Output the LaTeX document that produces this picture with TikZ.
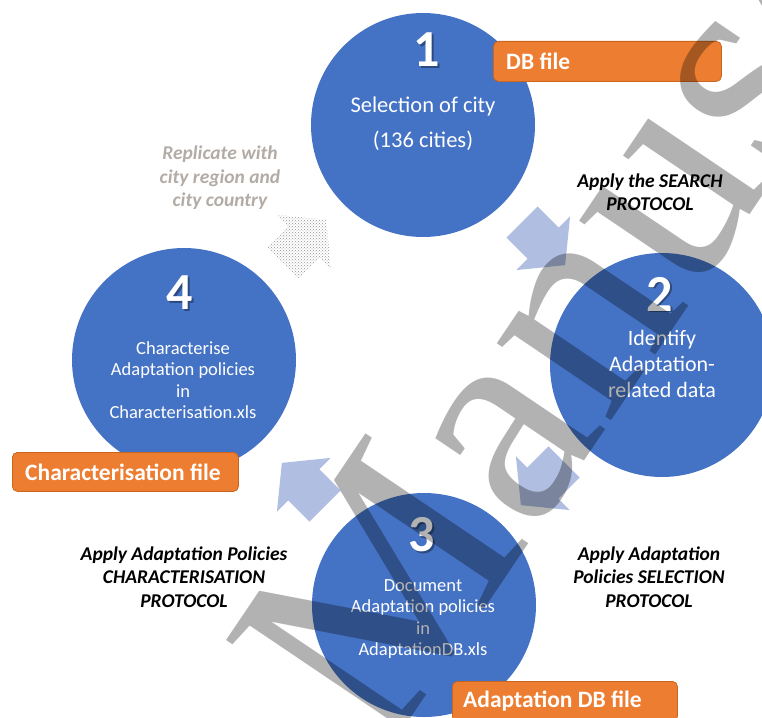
\documentclass[tikz,border=0pt]{standalone}
\usepackage{fontspec}
\setmainfont{Carlito}
\newfontfamily\wmfont{Liberation Serif}
\usetikzlibrary{patterns}

\definecolor{stepblue}{HTML}{4472C4}
\definecolor{flowblue}{HTML}{B0BEE1}
\definecolor{fileorange}{HTML}{ED7D31}
\definecolor{fileedge}{HTML}{C9651F}
\definecolor{notegray}{HTML}{B3ACA6}

\tikzset{
  stepcircle/.style={circle, fill=stepblue, minimum size=224pt, inner sep=0pt},
  stepnum/.style={text=white, font=\fontsize{52}{52}\selectfont\bfseries, inner sep=0pt},
  numshadow/.style={text=black, text opacity=0.35, font=\fontsize{52}{52}\selectfont\bfseries, inner sep=0pt},
  steptext/.style={text=white, align=center, inner sep=0pt},
  filebox/.style={rounded corners=5pt, fill=fileorange, draw=fileedge, line width=0.8pt},
  filetext/.style={text=white, anchor=west, inner sep=0pt, font=\fontsize{23.5}{23.5}\selectfont\bfseries},
  protolabel/.style={align=center, inner sep=0pt, font=\fontsize{19.5}{23.5}\selectfont\bfseries\itshape},
  flowarrow/.style={fill=flowblue},
  pics/blockarrow/.style={code={
    \path[#1] (0,-22) -- (30,-22) -- (30,-38) -- (61,0) -- (30,38) -- (30,22) -- (0,22) -- cycle;
  }}
}

\begin{document}
\begin{tikzpicture}[x=1pt, y=-1pt]
  \useasboundingbox (0,0) rectangle (762,717);

  % the four steps
  \node[stepcircle] (c1) at (423,125) {};
  \node[stepcircle] (c2) at (662,365) {};
  \node[stepcircle] (c3) at (424,605) {};
  \node[stepcircle] (c4) at (184,360) {};

  % step numbers with a soft shadow
  \foreach \n/\x/\y in {1/427/50, 2/660/294, 3/422/535, 4/180/293} {
    \node[numshadow] at (\x+1.5,\y+1.5) {\n};
    \node[stepnum] (n\n) at (\x,\y) {\n};
  }

  % step descriptions
  \node[steptext, font=\fontsize{22.5}{35}\selectfont] (t1) at (423,124)
    {Selection of city\\(136 cities)};
  \node[steptext, font=\fontsize{22}{26}\selectfont] (t2) at (662,364)
    {Identify\\Adaptation-\\related data};
  \node[steptext, font=\fontsize{18.5}{21.3}\selectfont] (t3) at (423,619)
    {Document\\Adaptation policies\\in\\AdaptationDB.xls};
  \node[steptext, font=\fontsize{18.5}{21.3}\selectfont] (t4) at (183,380)
    {Characterise\\Adaptation policies\\in\\Characterisation.xls};

  % flow between the steps
  \pic at (522,222) [rotate=-45] {blockarrow=flowarrow};
  \pic at (564,462) [rotate=-135] {blockarrow=flowarrow};
  \pic at (325,506) [rotate=135] {blockarrow=flowarrow};
  \pic at (283,263) [rotate=45] {blockarrow={pattern=crosshatch dots, pattern color=gray!85}};

  % files produced by the steps
  \node[filebox, minimum width=228pt, minimum height=40pt, anchor=north west] (f1) at (493,41) {};
  \node[filetext] at ([xshift=13pt]f1.west) {DB file};
  \node[filebox, minimum width=226pt, minimum height=39pt, anchor=north west] (f4) at (12,452) {};
  \node[filetext] at ([xshift=13pt]f4.west) {Characterisation file};
  \node[filebox, minimum width=225pt, minimum height=40pt, anchor=north west] (f3) at (452,681) {};
  \node[filetext] at ([xshift=11pt]f3.west) {Adaptation DB file};

  % protocol labels
  \node[protolabel] (p12) at (650,192) {Apply the SEARCH\\PROTOCOL};
  \node[protolabel] (p23) at (649,577) {Apply Adaptation\\Policies SELECTION\\PROTOCOL};
  \node[protolabel] (p34) at (184,577) {Apply Adaptation Policies\\CHARACTERISATION\\PROTOCOL};
  \node[protolabel, text=notegray] (p41) at (220,178) {Replicate with\\city region and\\city country};

  % overprinted watermark
  \begin{scope}
    \clip (0,0) rectangle (762,717);
    \node[rotate=56, anchor=base west, inner sep=0pt, text=black, text opacity=0.3,
          font=\wmfont\fontsize{300}{300}\selectfont] (wm) at (384,758) {Manuscript};
  \end{scope}
\end{tikzpicture}
\end{document}
